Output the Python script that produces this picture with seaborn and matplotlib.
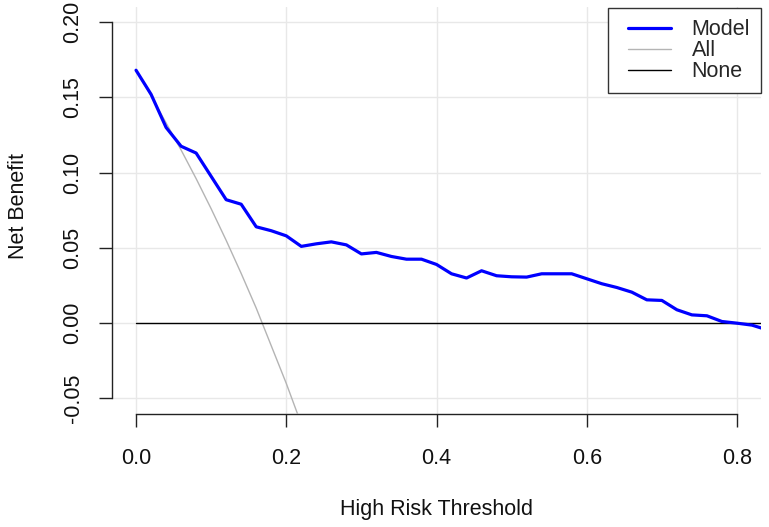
import matplotlib
matplotlib.use("Agg")
import matplotlib.pyplot as plt
from matplotlib.lines import Line2D
from matplotlib.legend_handler import HandlerLine2D
import seaborn as sns
import pandas as pd

# ---- data ----
thresholds = [0.00, 0.02, 0.04, 0.06, 0.08, 0.10, 0.12, 0.14, 0.16, 0.18,
              0.20, 0.22, 0.24, 0.26, 0.28, 0.30, 0.32, 0.34, 0.36, 0.38,
              0.40, 0.42, 0.44, 0.46, 0.48, 0.50, 0.52, 0.54, 0.56, 0.58,
              0.60, 0.62, 0.64, 0.66, 0.68, 0.70, 0.72, 0.74, 0.76, 0.78,
              0.80, 0.82, 0.84]
model_nb = [0.168, 0.152, 0.130, 0.1175, 0.113, 0.0975, 0.082, 0.079, 0.064, 0.0614,
            0.058, 0.051, 0.0527, 0.054, 0.052, 0.046, 0.047, 0.0443, 0.0425, 0.0425,
            0.039, 0.0328, 0.030, 0.0348, 0.0315, 0.0308, 0.0306, 0.0328, 0.0328, 0.0328,
            0.0295, 0.0262, 0.0237, 0.0206, 0.0155, 0.0151, 0.0089, 0.0055, 0.0049, 0.0011,
            0.000, -0.0013, -0.0044]
all_thresholds = [0.00, 0.02, 0.04, 0.06, 0.08, 0.10, 0.12, 0.14, 0.16, 0.18, 0.20, 0.22]
all_nb = [0.168, 0.151, 0.133, 0.115, 0.096, 0.076, 0.055, 0.033, 0.010, -0.015, -0.040, -0.067]
none_thresholds = [0.00, 0.84]
none_nb = [0.0, 0.0]

x_ticks = [0.0, 0.2, 0.4, 0.6, 0.8]
x_tick_labels = ["0.0", "0.2", "0.4", "0.6", "0.8"]
y_ticks = [-0.05, 0.00, 0.05, 0.10, 0.15, 0.20]
y_tick_labels = ["-0.05", "0.00", "0.05", "0.10", "0.15", "0.20"]
series_names = ["Model", "All", "None"]

sns.set_style("white")
plt.rcParams["font.family"] = ["Liberation Sans", "DejaVu Sans"]

FS = 15.5
W, H = 769, 527
fig = plt.figure(figsize=(W / 100, H / 100), dpi=100)
L, R, T, B = 112, 761, 7, 413.5
ax = fig.add_axes([L / W, 1 - B / H, (R - L) / W, (B - T) / H])

ax.set_xlim(-0.032, 0.832)
ax.set_ylim(-0.06, 0.21)

# grid
ax.set_xticks(x_ticks)
ax.set_yticks(y_ticks)
ax.grid(True, color="#E8E8E8", lw=1.0)
ax.set_axisbelow(True)

df_model = pd.DataFrame({"t": thresholds, "nb": model_nb})
df_all = pd.DataFrame({"t": all_thresholds, "nb": all_nb})
df_none = pd.DataFrame({"t": none_thresholds, "nb": none_nb})

sns.lineplot(data=df_model, x="t", y="nb", ax=ax, color="#0000FF", lw=2.3,
             label=series_names[0], zorder=4)
sns.lineplot(data=df_all, x="t", y="nb", ax=ax, color="#B4B4B4", lw=1.0,
             label=series_names[1], zorder=3)
sns.lineplot(data=df_none, x="t", y="nb", ax=ax, color="#000000", lw=1.0,
             label=series_names[2], zorder=3)

# axes styling (R base look)
for s in ["top", "right"]:
    ax.spines[s].set_visible(False)
ax.spines["left"].set_bounds(-0.05, 0.20)
ax.spines["bottom"].set_bounds(0.0, 0.8)
for s in ["left", "bottom"]:
    ax.spines[s].set_color("#222222")
    ax.spines[s].set_linewidth(1.0)

ax.set_xticklabels(x_tick_labels)
ax.set_yticklabels(y_tick_labels)
ax.tick_params(axis="both", which="major", bottom=True, left=True,
               direction="out", length=9.5, width=1.0,
               color="#222222", labelsize=FS, labelcolor="#111111")
ax.tick_params(axis="x", pad=15.5)
ax.tick_params(axis="y", pad=11, labelrotation=90)
for lab in ax.get_yticklabels():
    lab.set_va("center")

ax.set_xlabel("High Risk Threshold", fontsize=FS, color="#111111", va="center")
ax.set_ylabel("Net Benefit", fontsize=FS, color="#111111", va="center")
ax.xaxis.set_label_coords(0.5, -0.237)
ax.yaxis.set_label_coords((18.5 - L) / (R - L), 0.51)

leg = ax.legend(loc="upper right", bbox_to_anchor=(1.0, 0.9968), borderaxespad=0,
                fontsize=FS, frameon=True, fancybox=False, framealpha=1,
                edgecolor="#333333", labelspacing=0.0, handlelength=2.82,
                handletextpad=0.55, borderpad=0.5,
                handler_map={Line2D: HandlerLine2D(numpoints=2, marker_pad=0.41)})
leg.get_frame().set_linewidth(1.0)

fig.savefig("out.png", dpi=100)
